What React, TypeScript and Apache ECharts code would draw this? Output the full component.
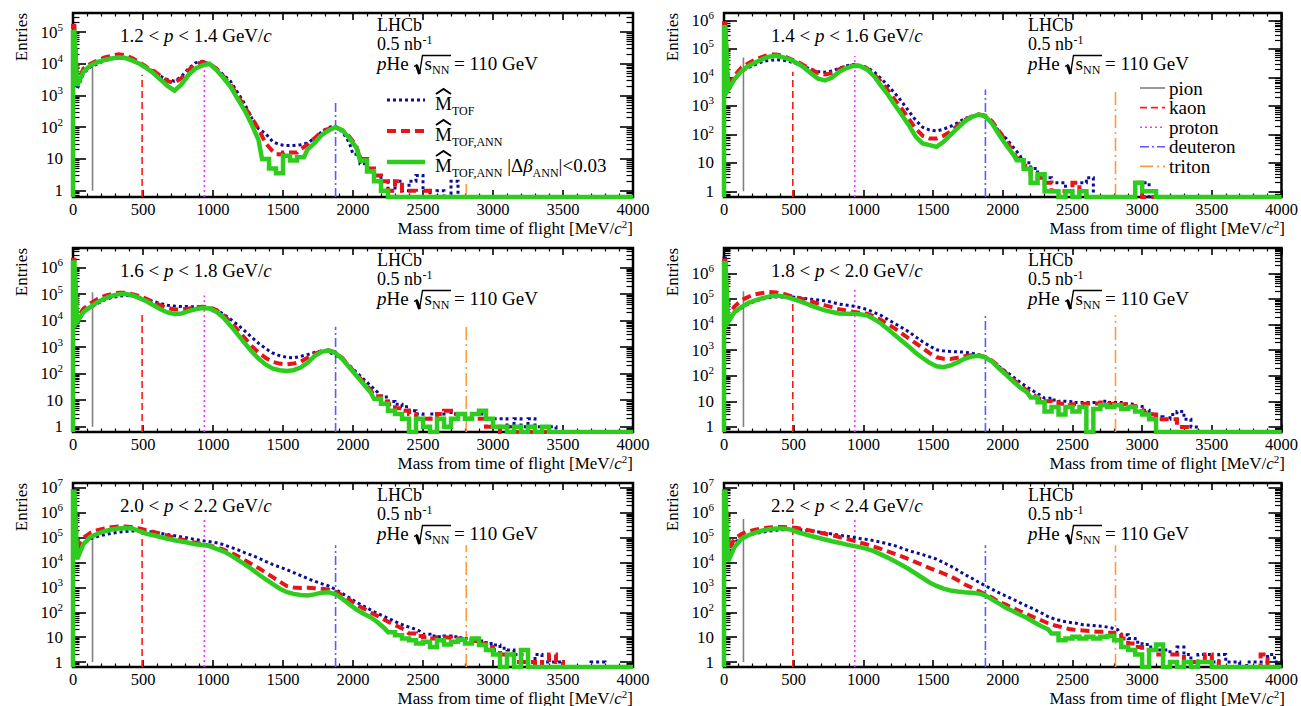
import { useEffect, useRef } from 'react';
import * as echarts from 'echarts';

const FONT = '"Liberation Serif", "Times New Roman", Times, serif';
const N = null;

// Bin lower edges [MeV/c^2]: a narrow 0–10 bin, a 10–50 bin, then 50 MeV bins up to 4000
const binLowEdges: number[] = [0, 10];
for (let e = 50; e < 4000; e += 50) binLowEdges.push(e);
const MASS_MAX = 4000;

// Momentum intervals [GeV/c]
const pLow = ['1.2', '1.4', '1.6', '1.8', '2.0', '2.2'];
const pHigh = ['1.4', '1.6', '1.8', '2.0', '2.2', '2.4'];

// Vertical axis ranges in decades (log10 of entries)
const Y_MIN_LOG = -0.2;
const yMaxLog = [5.6, 6.26, 6.74, 6.99, 7.2, 7.2];

// Histogram contents, read as log10(entries) off the log-scaled axis; N = empty bin.
// Order: [0–10 bin, 10–50 bin, 50, 100, ... 3950]
const p1Tof = [5.15, 3.2,
  3.7, 3.9, 4.0, 4.1, 4.15, 4.2, 4.18, 4.1, 4.0, 3.88,
  3.75, 3.6, 3.5, 3.45, 3.6, 3.85, 4.03, 4.08, 4.0, 3.85,
  3.65, 3.45, 3.1, 2.75, 2.3, 1.95, 1.8, 1.55, 1.45, 1.42,
  1.42, 1.45, 1.5, 1.65, 1.85, 2.0, 2.03, 1.85, 1.5, 1.15,
  0.85, 0.65, 0.48, 0.3, 0, 0.3, 0, 0.3, 0.48, 0,
  N, 0, N, 0.3, N, N, N, N, N, N,
  N, N, N, N, N, N, N, N, N, N,
  N, N, N, N, N, N, N, N, N];
const p1Ann = [5.2, 3.4,
  3.85, 4.0, 4.1, 4.2, 4.25, 4.3, 4.27, 4.17, 4.05, 3.9,
  3.78, 3.62, 3.45, 3.4, 3.55, 3.8, 3.98, 4.05, 4.0, 3.85,
  3.6, 3.35, 3.0, 2.65, 2.3, 1.95, 1.5, 1.25, 1.15, 1.2,
  1.2, 1.3, 1.45, 1.65, 1.85, 1.95, 2.0, 1.9, 1.7, 1.4,
  1.0, 0.7, 0.48, 0.3, 0, 0.3, 0, 0, N, 0,
  N, N, N, N, N, N, N, N, N, N,
  N, N, N, N, N, N, N, N, N, N,
  N, N, N, N, N, N, N, N, N];
const p1Sel = [5.0, 3.3,
  3.75, 3.95, 4.05, 4.12, 4.17, 4.2, 4.18, 4.1, 4.0, 3.86,
  3.7, 3.5, 3.3, 3.15, 3.35, 3.65, 3.85, 3.95, 4.0, 3.8,
  3.55, 3.28, 2.9, 2.54, 2.1, 1.6, 1.0, 0.7, 0.55, 1.1,
  0.95, 1.05, 1.3, 1.5, 1.75, 1.9, 2.0, 1.9, 1.65, 1.35,
  0.95, 0.6, 0.3, 0, N, N, N, N, N, N,
  N, N, N, N, N, N, N, N, N, N,
  N, N, N, N, N, N, N, N, N, N,
  N, N, N, N, N, N, N, N, N];

const p2Tof = [5.9, 3.5,
  3.95, 4.2, 4.35, 4.45, 4.55, 4.6, 4.62, 4.6, 4.55, 4.47,
  4.38, 4.28, 4.2, 4.18, 4.22, 4.32, 4.4, 4.45, 4.42, 4.35,
  4.2, 3.97, 3.72, 3.45, 3.15, 2.82, 2.5, 2.25, 2.15, 2.12,
  2.18, 2.28, 2.4, 2.55, 2.62, 2.68, 2.6, 2.4, 2.1, 1.85,
  1.55, 1.25, 1.0, 0.8, 0.6, 0.48, 0.3, 0.3, 0, 0.3,
  0.3, 0.48, N, N, N, N, N, N, 0.3, 0.3,
  N, N, N, N, N, N, N, N, N, N,
  N, N, N, N, N, N, N, N, N];
const p2Ann = [5.9, 3.7,
  4.05, 4.35, 4.5, 4.62, 4.72, 4.8, 4.8, 4.75, 4.65, 4.55,
  4.42, 4.28, 4.15, 4.1, 4.15, 4.28, 4.38, 4.42, 4.42, 4.32,
  4.12, 3.85, 3.55, 3.22, 2.9, 2.55, 2.2, 1.95, 1.85, 1.85,
  1.95, 2.1, 2.3, 2.5, 2.62, 2.7, 2.66, 2.45, 2.1, 1.75,
  1.4, 1.15, 0.9, 0.6, 0.48, 0.3, 0, 0, 0, 0.3,
  0, N, N, N, N, N, N, N, 0.3, N,
  N, N, N, N, N, N, N, N, N, N,
  N, N, N, N, N, N, N, N, N];
const p2Sel = [5.76, 3.57,
  3.93, 4.22, 4.4, 4.52, 4.64, 4.73, 4.76, 4.7, 4.62, 4.5,
  4.34, 4.14, 3.95, 3.89, 3.99, 4.19, 4.32, 4.4, 4.4, 4.28,
  4.05, 3.72, 3.4, 3.04, 2.69, 2.33, 1.92, 1.68, 1.62, 1.56,
  1.74, 1.98, 2.21, 2.45, 2.6, 2.69, 2.63, 2.37, 1.98, 1.62,
  1.3, 1.09, 0.79, 0.3, 0.6, 0, 0, N, 0, N,
  0, N, N, N, N, N, N, N, 0.3, 0,
  0, N, N, N, N, N, N, N, N, N,
  N, N, N, N, N, N, N, N, N];

const p3Tof = [6.25, 3.9,
  4.3, 4.5, 4.65, 4.78, 4.87, 4.92, 4.95, 4.93, 4.88, 4.8,
  4.72, 4.65, 4.58, 4.55, 4.53, 4.53, 4.52, 4.52, 4.48, 4.4,
  4.25, 4.05, 3.85, 3.62, 3.38, 3.15, 2.95, 2.78, 2.68, 2.62,
  2.6, 2.65, 2.72, 2.8, 2.85, 2.82, 2.7, 2.55, 2.3, 2.05,
  1.8, 1.55, 1.3, 1.12, 0.95, 0.85, 0.75, 0.6, 0.48, 0.3,
  0.48, 0.48, 0.6, 0.48, 0.48, 0.3, 0.48, 0.48, 0.3, 0.3,
  0.3, 0, 0.3, 0, 0.3, 0, 0, 0, N, N,
  N, N, N, N, N, N, N, N, N];
const p3Ann = [6.3, 4.1,
  4.45, 4.65, 4.82, 4.93, 5.0, 5.05, 5.05, 5.0, 4.92, 4.82,
  4.7, 4.58, 4.48, 4.42, 4.42, 4.45, 4.5, 4.52, 4.5, 4.4,
  4.2, 3.95, 3.65, 3.35, 3.05, 2.8, 2.6, 2.45, 2.38, 2.35,
  2.38, 2.45, 2.6, 2.75, 2.85, 2.88, 2.8, 2.58, 2.28, 1.98,
  1.68, 1.4, 1.15, 0.95, 0.85, 0.7, 0.6, 0.48, 0.3, 0.3,
  0.3, 0.48, 0.6, 0.48, 0.48, 0.3, 0.3, 0.3, 0, 0,
  N, 0, N, N, N, N, N, N, N, N,
  N, N, N, N, N, N, N, N, N];
const p3Sel = [6.19, 3.96,
  4.33, 4.52, 4.7, 4.83, 4.93, 5.0, 5.01, 4.95, 4.85, 4.73,
  4.58, 4.43, 4.31, 4.25, 4.27, 4.36, 4.43, 4.48, 4.46, 4.33,
  4.11, 3.81, 3.49, 3.16, 2.85, 2.57, 2.35, 2.2, 2.13, 2.1,
  2.13, 2.23, 2.41, 2.66, 2.82, 2.88, 2.78, 2.54, 2.23, 1.92,
  1.61, 1.3, 1.05, 0.87, 0.6, 0.48, 0.3, N, 0.3, 0,
  N, 0.3, 0, 0.3, 0.48, 0.3, 0.48, 0.6, 0.3, 0,
  0, N, 0, N, 0, N, 0, N, N, N,
  N, N, N, N, N, N, N, N, N];

const p4Tof = [6.6, 4.1,
  4.45, 4.65, 4.8, 4.92, 5.0, 5.05, 5.08, 5.08, 5.07, 5.06,
  5.02, 4.99, 4.96, 4.93, 4.87, 4.8, 4.76, 4.72, 4.66, 4.59,
  4.48, 4.36, 4.2, 4.04, 3.88, 3.72, 3.52, 3.33, 3.16, 3.01,
  2.97, 2.95, 2.93, 2.92, 2.88, 2.82, 2.72, 2.55, 2.35, 2.15,
  1.95, 1.75, 1.55, 1.38, 1.22, 1.12, 1.05, 1.0, 0.98, 0.95,
  0.95, 0.95, 0.95, 1.0, 0.95, 0.95, 0.9, 0.88, 0.8, 0.65,
  0.5, 0.4, 0.3, 0.48, 0.6, 0.3, 0, N, N, N,
  N, N, N, N, N, N, N, N, N];
const p4Ann = [6.5, 4.3,
  4.7, 4.95, 5.08, 5.18, 5.23, 5.27, 5.25, 5.2, 5.12, 5.05,
  4.98, 4.9, 4.82, 4.75, 4.68, 4.6, 4.55, 4.5, 4.46, 4.42,
  4.32, 4.18, 4.02, 3.85, 3.65, 3.46, 3.27, 3.08, 2.88, 2.72,
  2.66, 2.65, 2.7, 2.76, 2.8, 2.8, 2.74, 2.58, 2.35, 2.1,
  1.85, 1.62, 1.42, 1.25, 1.1, 1.0, 0.95, 0.9, 0.85, 0.88,
  0.9, 0.92, 0.9, 0.95, 0.9, 0.85, 0.88, 0.82, 0.7, 0.55,
  0.48, 0.3, 0.3, 0.3, 0, 0, N, N, N, N,
  N, N, N, N, N, N, N, N, N];
const p4Sel = [6.4, 4.1,
  4.49, 4.68, 4.85, 4.94, 5.03, 5.1, 5.13, 5.1, 5.03, 4.94,
  4.85, 4.74, 4.64, 4.55, 4.49, 4.43, 4.42, 4.42, 4.4, 4.36,
  4.22, 4.04, 3.82, 3.59, 3.37, 3.14, 2.9, 2.69, 2.5, 2.37,
  2.33, 2.4, 2.52, 2.66, 2.75, 2.78, 2.72, 2.54, 2.28, 2.03,
  1.77, 1.54, 1.35, 1.15, 0.96, 0.6, 0.78, 0.48, 0.78, 0.6,
  0.78, N, 0.7, 0.85, 0.78, 0.85, 0.7, 0.78, 0.6, 0.48,
  0.3, N, N, N, N, N, N, N, N, N,
  N, N, N, N, N, N, N, N, N];

const p5Tof = [6.9, 4.3,
  4.75, 4.95, 5.05, 5.12, 5.18, 5.22, 5.25, 5.27, 5.27, 5.26,
  5.22, 5.18, 5.13, 5.08, 5.03, 4.98, 4.93, 4.88, 4.84, 4.8,
  4.72, 4.62, 4.52, 4.4, 4.3, 4.18, 4.05, 3.93, 3.82, 3.72,
  3.6, 3.48, 3.36, 3.25, 3.15, 3.06, 2.92, 2.75, 2.58, 2.4,
  2.25, 2.1, 1.95, 1.83, 1.7, 1.56, 1.45, 1.36, 1.25, 1.12,
  1.05, 1.02, 1.05, 1.02, 0.98, 0.95, 0.9, 0.85, 0.75, 0.68,
  0.55, 0.48, 0.3, 0.3, 0, 0.3, 0, 0, 0, N,
  N, N, N, 0, 0, N, N, N, N];
const p5Ann = [6.85, 4.45,
  5.0, 5.2, 5.3, 5.37, 5.42, 5.45, 5.45, 5.42, 5.37, 5.3,
  5.23, 5.16, 5.08, 5.0, 4.93, 4.86, 4.8, 4.74, 4.68, 4.62,
  4.52, 4.4, 4.26, 4.1, 3.94, 3.78, 3.6, 3.42, 3.24, 3.06,
  3.0, 2.98, 2.99, 2.97, 2.95, 2.92, 2.82, 2.68, 2.5, 2.31,
  2.15, 2.0, 1.85, 1.7, 1.55, 1.42, 1.28, 1.15, 1.05, 1.0,
  0.95, 1.0, 0.98, 0.95, 0.92, 0.9, 0.85, 0.75, 0.6, 0.48,
  0.3, 0.3, 0, 0, 0, N, 0, 0.3, 0, N,
  N, N, N, N, N, N, N, N, N];
const p5Sel = [6.85, 4.14,
  4.75, 5.03, 5.16, 5.26, 5.33, 5.37, 5.39, 5.37, 5.26, 5.16,
  5.1, 5.03, 4.96, 4.9, 4.85, 4.8, 4.74, 4.71, 4.66, 4.55,
  4.45, 4.3, 4.12, 3.94, 3.74, 3.53, 3.33, 3.14, 2.96, 2.82,
  2.74, 2.7, 2.68, 2.72, 2.79, 2.81, 2.72, 2.54, 2.32, 2.11,
  1.94, 1.8, 1.6, 1.36, 1.2, 1.08, 0.95, 0.88, 0.75, 0.82,
  0.6, 0.88, 0.7, 0.82, 0.9, 0.75, 0.95, 0.68, 0.48, 0.3,
  N, 0.3, N, 0.48, N, N, N, N, N, N,
  N, N, N, N, N, N, N, N, N];

const p6Tof = [6.9, 4.3,
  4.8, 5.0, 5.1, 5.17, 5.22, 5.27, 5.3, 5.32, 5.33, 5.34,
  5.3, 5.27, 5.23, 5.19, 5.15, 5.1, 5.06, 5.02, 4.97, 4.93,
  4.88, 4.82, 4.75, 4.68, 4.58, 4.48, 4.4, 4.32, 4.23, 4.14,
  4.0, 3.86, 3.7, 3.53, 3.38, 3.22, 3.07, 2.92, 2.78, 2.65,
  2.52, 2.38, 2.25, 2.12, 1.98, 1.83, 1.72, 1.65, 1.6, 1.56,
  1.5, 1.48, 1.45, 1.43, 1.38, 1.3, 1.1, 0.95, 0.8, 0.7,
  0.6, 0.48, 0.48, 0.3, 0.6, 0.3, 0, 0.3, 0.3, 0,
  0.3, 0, 0, N, 0, 0, 0, 0.3, 0];
const p6Ann = [6.85, 4.5,
  4.95, 5.15, 5.25, 5.32, 5.37, 5.41, 5.43, 5.43, 5.42, 5.39,
  5.34, 5.28, 5.22, 5.16, 5.1, 5.03, 4.96, 4.88, 4.8, 4.73,
  4.64, 4.55, 4.45, 4.35, 4.25, 4.14, 4.02, 3.9, 3.78, 3.67,
  3.56, 3.45, 3.3, 3.13, 3.0, 2.85, 2.72, 2.58, 2.42, 2.3,
  2.17, 2.04, 1.92, 1.8, 1.68, 1.56, 1.47, 1.4, 1.33, 1.29,
  1.27, 1.25, 1.22, 1.22, 1.18, 1.1, 0.95, 0.75, 0.6, 0.48,
  0.48, 0.3, 0.3, 0.3, 0.3, 0, 0, 0, 0.3, 0,
  N, N, N, N, N, N, 0.3, N, N];
const p6Sel = [6.85, 4.05,
  4.62, 4.96, 5.1, 5.2, 5.29, 5.34, 5.37, 5.37, 5.33, 5.23,
  5.15, 5.07, 5.0, 4.93, 4.86, 4.8, 4.73, 4.67, 4.62, 4.55,
  4.46, 4.33, 4.2, 4.05, 3.9, 3.74, 3.56, 3.38, 3.2, 3.06,
  2.95, 2.88, 2.84, 2.81, 2.79, 2.76, 2.68, 2.51, 2.35, 2.17,
  2.04, 1.9, 1.77, 1.6, 1.45, 1.32, 1.15, 0.88, 0.95, 1.02,
  0.95, 1.02, 0.95, 1.02, 1.05, 0.88, 0.6, 0.48, 0.3, N,
  0.48, 0.7, N, 0, N, 0, N, 0, 0, N,
  N, N, N, N, N, N, N, N, N];

const histTof = [p1Tof, p2Tof, p3Tof, p4Tof, p5Tof, p6Tof];
const histAnn = [p1Ann, p2Ann, p3Ann, p4Ann, p5Ann, p6Ann];
const histSel = [p1Sel, p2Sel, p3Sel, p4Sel, p5Sel, p6Sel];

// Reference particle masses [MeV/c^2] and the heights (log10) of their marker lines per panel
const particleNames = ['pion', 'kaon', 'proton', 'deuteron', 'triton'];
const particleMasses = [139.57, 493.68, 938.27, 1875.61, 2808.92];
const lineTopLog = [
  [4.0, 3.65, 4.12, 2.85, 0.32],
  [4.7, 4.2, 4.75, 3.57, 3.6],
  [5.07, 4.23, 4.95, 3.77, 3.84],
  [5.3, 5.13, 5.38, 4.36, 4.36],
  [4.9, 5.77, 5.77, 4.7, 4.7],
  [5.75, 5.77, 5.77, 4.7, 4.7],
];

const particleStyles: { color: string; dash: number[] | null }[] = [
  { color: '#808080', dash: null },
  { color: '#ff1a1a', dash: [7, 4] },
  { color: '#ff33ff', dash: [2, 3] },
  { color: '#5a5aff', dash: [9, 3, 2, 3] },
  { color: '#ff9a3c', dash: [13, 4, 2, 4] },
];
const histStyles = {
  tof: { color: '#0c0c99', width: 3, dash: [3, 3] as number[] | null },
  ann: { color: '#e8141b', width: 4, dash: [9, 5] as number[] | null },
  sel: { color: '#2ecc1f', width: 4.5, dash: null as number[] | null },
};

const colLeft = [73, 724];
const colWidth = [560, 561];
const rowTop = [13, 248, 483];
const PANEL_H = 184;
// below this many decades the bins are drawn as flat steps (low-statistics tails)
const STEP_BELOW_LOG = 1.2;

function rich(size: number, lh: number) {
  const sm = Math.round(size * 0.63);
  return {
    n: { fontFamily: FONT, fontSize: size, lineHeight: lh, verticalAlign: 'middle', fill: '#000' },
    i: { fontFamily: FONT, fontSize: size, fontStyle: 'italic', lineHeight: lh, verticalAlign: 'middle', fill: '#000' },
    s: { fontFamily: FONT, fontSize: sm, lineHeight: sm, verticalAlign: 'top', fill: '#000' },
    b: { fontFamily: FONT, fontSize: sm, lineHeight: sm, verticalAlign: 'bottom', fill: '#000' },
  };
}

function txt(x: number, y: number, text: string, size: number, lh?: number, align = 'left') {
  return {
    type: 'text', x, y, z: 100, silent: true,
    style: { text, rich: rich(size, lh ?? size + 8), fill: '#000', fontFamily: FONT, fontSize: size, align, verticalAlign: 'middle' },
  };
}

function plain(x: number, y: number, text: string, size: number, extra: any = {}) {
  return {
    type: 'text', x, y, z: 100, silent: true, ...extra,
    style: { text, fill: '#000', fontFamily: FONT, fontSize: size, lineHeight: Math.round(size * 0.78), align: 'left', verticalAlign: 'middle', ...(extra.style || {}) },
  };
}

function histPoints(vals: (number | null)[]) {
  const spike = vals[0] === null ? Y_MIN_LOG : (vals[0] as number);
  const pts: number[][] = [[0, Y_MIN_LOG], [0, spike], [binLowEdges[1], spike]];
  for (let k = 1; k < vals.length; k++) {
    const lo = binLowEdges[k];
    const hi = k + 1 < binLowEdges.length ? binLowEdges[k + 1] : MASS_MAX;
    const raw = vals[k];
    const v = raw === null ? Y_MIN_LOG : raw;
    if (raw === null || raw <= STEP_BELOW_LOG) {
      pts.push([lo, v], [hi, v]);
    } else {
      pts.push([(lo + hi) / 2, v]);
    }
  }
  const last = vals[vals.length - 1];
  pts.push([MASS_MAX, last === null ? Y_MIN_LOG : last]);
  return pts;
}

function buildOption() {
  const grid: any[] = [];
  const xAxis: any[] = [];
  const yAxis: any[] = [];
  const series: any[] = [];
  const graphic: any[] = [];

  for (let i = 0; i < 6; i++) {
    const col = i % 2;
    const row = Math.floor(i / 2);
    const L = colLeft[col];
    const T = rowTop[row];
    const W = colWidth[col];
    grid.push({ left: L, top: T, width: W, height: PANEL_H, show: true, borderColor: '#000', borderWidth: 2.5, backgroundColor: 'transparent' });

    const tickStyle = { color: '#000', width: 1.6 };
    const xBase = {
      type: 'value', gridIndex: i, min: 0, max: MASS_MAX, interval: 500,
      axisLine: { show: false, onZero: false }, splitLine: { show: false }, minorSplitLine: { show: false },
      axisTick: { show: true, inside: true, length: 7, lineStyle: tickStyle },
      minorTick: { show: true, splitNumber: 5, length: 3.5, lineStyle: { color: '#000', width: 1.2 } },
    };
    xAxis.push({
      ...xBase, position: 'bottom',
      axisLabel: { show: true, margin: 4, color: '#000', fontFamily: FONT, fontSize: 16.5, lineHeight: 16, formatter: (v: number) => String(Math.round(v)) },
    });
    xAxis.push({ ...xBase, position: 'top', axisLabel: { show: false } });

    const yMax = yMaxLog[i];
    const majors: number[] = [];
    for (let d = 0; d <= yMax; d++) majors.push(d);
    const minors: number[] = [];
    for (let d = -1; d <= 8; d++) {
      for (let k = 2; k <= 9; k++) {
        const v = d + Math.log10(k);
        if (v > Y_MIN_LOG && v < yMax) minors.push(v);
      }
    }
    const yBase = { type: 'value', gridIndex: i, min: Y_MIN_LOG, max: yMax, axisLine: { show: false, onZero: false }, splitLine: { show: false } };
    const majorTick = { show: true, inside: true, length: 13, customValues: majors, lineStyle: tickStyle };
    const minorTickY = { show: true, inside: true, length: 6.5, customValues: minors, lineStyle: { color: '#000', width: 1.2 } };
    yAxis.push({
      ...yBase, position: 'left', axisTick: majorTick,
      axisLabel: {
        show: true, customValues: majors, margin: 10, color: '#000', fontFamily: FONT, fontSize: 17,
        formatter: (v: number) => {
          const n = Math.round(v);
          if (n === 0) return '{b|1}';
          if (n === 1) return '{b|10}';
          return `{b|10}{s|${n}}`;
        },
        rich: {
          b: { fontFamily: FONT, fontSize: 17, color: '#000', lineHeight: 22, verticalAlign: 'middle' },
          s: { fontFamily: FONT, fontSize: 11, color: '#000', lineHeight: 11, verticalAlign: 'top' },
        },
      },
    });
    yAxis.push({ ...yBase, position: 'left', axisTick: minorTickY, axisLabel: { show: false } });
    yAxis.push({ ...yBase, position: 'right', axisTick: majorTick, axisLabel: { show: false } });
    yAxis.push({ ...yBase, position: 'right', axisTick: minorTickY, axisLabel: { show: false } });

    const xi = 2 * i;
    const yi = 4 * i;
    particleMasses.forEach((m, k) => {
      const st = particleStyles[k];
      series.push({
        type: 'line', xAxisIndex: xi, yAxisIndex: yi, silent: true, symbol: 'none', z: 1,
        name: `${particleNames[k]}-${i}`,
        data: [[m, k === 0 ? 0 : Y_MIN_LOG], [m, lineTopLog[i][k]]],
        lineStyle: { color: st.color, width: 1.6, type: st.dash || 'solid' },
      });
    });
    const hs: [string, (number | null)[], any, number][] = [
      ['tof', histTof[i], histStyles.tof, 2],
      ['ann', histAnn[i], histStyles.ann, 3],
      ['sel', histSel[i], histStyles.sel, 4],
    ];
    hs.forEach(([nm, vals, st, z]) => {
      series.push({
        type: 'line', name: `${nm}-${i}`, xAxisIndex: xi, yAxisIndex: yi, silent: true, symbol: 'none', showSymbol: false,
        z, data: histPoints(vals),
        lineStyle: { color: st.color, width: st.width, type: st.dash || 'solid', cap: 'butt', join: 'miter' },
      });
    });

    // Axis titles
    graphic.push(plain(L - 52, T, 'Entries', 17, { rotation: Math.PI / 2, style: { align: 'right' } }));
    graphic.push(txt(L + W, T + PANEL_H + 31, '{n|Mass from time of flight [MeV/}{i|c}{s|2}{n|]}', 17, 20, 'right'));

    // Momentum interval
    graphic.push(txt(L + 47, T + 22.5, `{n|${pLow[i]} < }{i|p}{n| < ${pHigh[i]} GeV/}{i|c}`, 19, 19));

    // LHCb block
    const yP = T + 50.5; // centre of the "pHe sqrt(sNN)" line
    graphic.push(plain(L + 304, T + 11.5, 'LHCb', 18));
    graphic.push(plain(L + 304, T + 31, '0.5 nb', 18));
    graphic.push(plain(L + 349.5, T + 26.5, '-1', 12));
    graphic.push(txt(L + 304, yP, '{i|p}{n|He}', 19, 15));
    graphic.push({
      type: 'polyline', z: 100, silent: true,
      shape: { points: [[L + 341, yP + 3], [L + 343.5, yP + 1.5], [L + 346.5, yP + 10.5], [L + 349.5, yP - 8], [L + 378, yP - 8]] },
      style: { stroke: '#000', lineWidth: 1.4, fill: 'none' },
    });
    graphic.push({
      type: 'line', z: 100, silent: true,
      shape: { x1: L + 343.5, y1: yP + 1.5, x2: L + 346.5, y2: yP + 10.5 },
      style: { stroke: '#000', lineWidth: 3 },
    });
    graphic.push(plain(L + 351.5, yP, 's', 19));
    graphic.push(plain(L + 359, yP + 6, 'NN', 12));
    graphic.push(plain(L + 381, yP, '= 110 GeV', 19));

    if (i === 0) {
      const entries: [number, any, string][] = [
        [87, histStyles.tof, '{n|M}{b|TOF}'],
        [118, histStyles.ann, '{n|M}{b|TOF,ANN}'],
        [149, histStyles.sel, '{n|M}{b|TOF,ANN}{n| |Δ}{i|β}{b|ANN}{n||<0.03}'],
      ];
      entries.forEach(([dy, st, label]) => {
        graphic.push({
          type: 'line', z: 100, silent: true,
          shape: { x1: L + 314, y1: T + dy, x2: L + 352, y2: T + dy },
          style: { stroke: st.color, lineWidth: st.width, lineDash: st.dash || undefined },
        });
        const cy = T + dy + 3;
        graphic.push(txt(L + 362, cy, label, 19, 27));
        graphic.push({
          type: 'polyline', z: 100, silent: true,
          shape: { points: [[L + 363, cy - 9], [L + 370.5, cy - 14], [L + 378, cy - 9]] },
          style: { stroke: '#000', lineWidth: 2, fill: 'none' },
        });
      });
    }
    if (i === 1) {
      particleNames.forEach((nm, k) => {
        const y = T + 75 + 19.6 * k;
        const st = particleStyles[k];
        graphic.push({
          type: 'line', z: 100, silent: true,
          shape: { x1: L + 416, y1: y, x2: L + 441, y2: y },
          style: { stroke: st.color, lineWidth: 1.6, lineDash: st.dash || undefined },
        });
        graphic.push(plain(L + 445, y, nm, 19));
      });
    }
  }

  return { animation: false, backgroundColor: '#fff', grid, xAxis, yAxis, series, graphic };
}

export default function App() {
  const ref = useRef<HTMLDivElement>(null);
  useEffect(() => {
    if (!ref.current) return;
    const chart = echarts.init(ref.current, undefined, { renderer: 'svg' });
    chart.setOption(buildOption() as any);
    return () => chart.dispose();
  }, []);
  return <div ref={ref} style={{ position: 'fixed', left: 0, top: 0, width: 1301, height: 706, background: '#fff' }} />;
}
